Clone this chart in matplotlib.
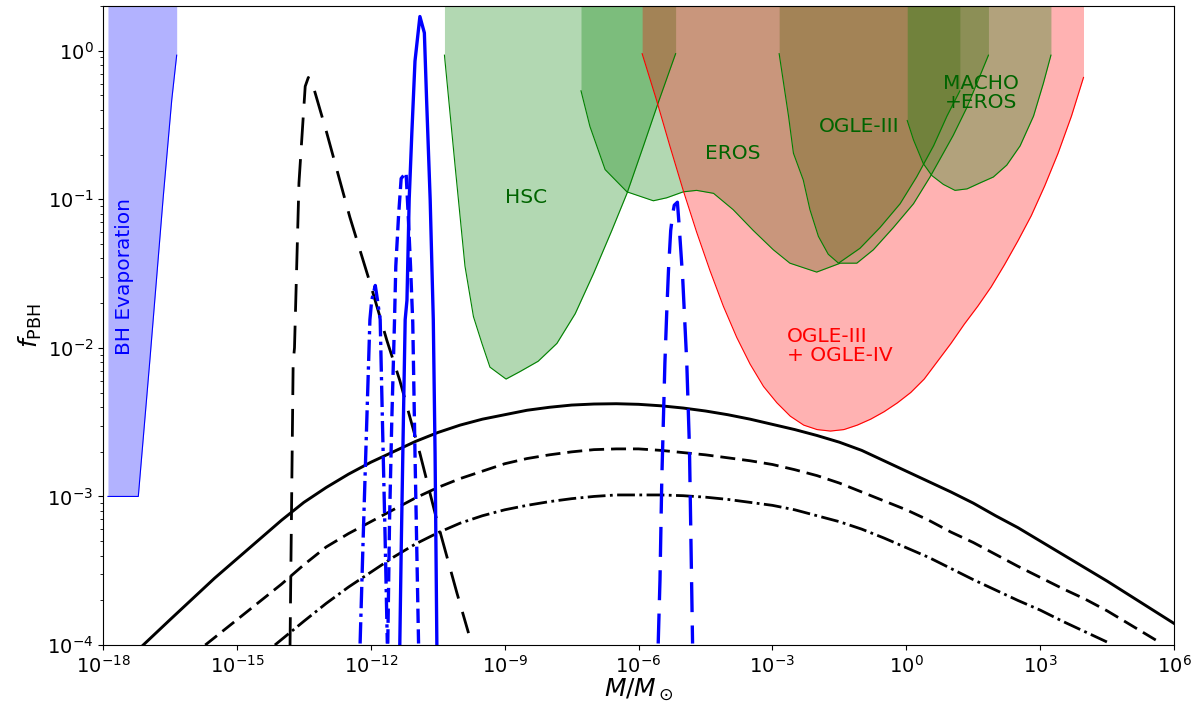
import numpy as np
import matplotlib
matplotlib.use('Agg')
import matplotlib.pyplot as plt
from matplotlib.ticker import FixedLocator, NullLocator

# constraint regions, log10(M/Msun) and log10(f_PBH) of the lower boundary
bh_logm = [-17.89, -17.21, -16.95, -16.65, -16.46, -16.35]
bh_logf = [-3.00, -3.00, -2.08, -0.98, -0.33, -0.03]

hsc_logm = [-10.35, -10.11, -9.89, -9.70, -9.51, -9.33, -8.97, -8.66, -8.25, -7.83,
            -7.42, -7.01, -6.60, -6.26, -5.89, -5.56, -5.17]
hsc_logf = [-0.03, -0.78, -1.45, -1.79, -1.97, -2.13, -2.21, -2.16, -2.09, -1.97,
            -1.77, -1.50, -1.21, -0.96, -0.64, -0.35, -0.02]

eros_logm = [-7.29, -7.09, -6.75, -6.26, -5.67, -5.37, -5.00, -4.70, -4.32, -3.88,
             -3.43, -2.98, -2.61, -2.01, -1.48, -1.11, -0.74, -0.29, 0.16, 0.53,
             0.79, 1.05, 1.36, 1.58, 1.84]
eros_logf = [-0.27, -0.51, -0.80, -0.95, -1.01, -0.99, -0.95, -0.94, -0.96, -1.07,
             -1.21, -1.34, -1.43, -1.49, -1.43, -1.43, -1.34, -1.19, -1.03, -0.85,
             -0.71, -0.57, -0.38, -0.22, -0.03]

ogle3_logm = [-2.85, -2.76, -2.64, -2.53, -2.31, -2.16, -1.97, -1.75, -1.52, -1.04,
              -0.59, -0.14, 0.23, 0.61, 0.91, 1.20]
ogle3_logf = [-0.02, -0.20, -0.44, -0.69, -0.87, -1.07, -1.25, -1.37, -1.43, -1.33,
              -1.19, -1.03, -0.85, -0.64, -0.44, -0.27]

ogle4_logm = [-5.92, -5.6, -5.3, -5.0, -4.7, -4.4, -4.1, -3.8, -3.5, -3.2,
              -2.9, -2.6, -2.3, -2.0, -1.7, -1.4, -1.1, -0.8, -0.5, -0.2,
              0.1, 0.4, 0.7, 1.0, 1.3, 1.6, 1.9, 2.2, 2.5, 2.8,
              3.1, 3.4, 3.7, 3.97]
ogle4_logf = [-0.02, -0.33, -0.64, -0.94, -1.22, -1.48, -1.72, -1.93, -2.11, -2.26,
              -2.37, -2.46, -2.52, -2.55, -2.56, -2.55, -2.52, -2.48, -2.43, -2.37,
              -2.30, -2.21, -2.09, -1.97, -1.84, -1.72, -1.59, -1.44, -1.28, -1.11,
              -0.91, -0.69, -0.44, -0.18]

macho_logm = [0.02, 0.16, 0.38, 0.57, 0.83, 1.09, 1.36, 1.65, 1.95, 2.25,
              2.55, 2.85, 3.07, 3.24]
macho_logf = [-0.47, -0.60, -0.76, -0.84, -0.90, -0.94, -0.93, -0.89, -0.85, -0.77,
              -0.64, -0.44, -0.22, -0.03]

# broad black curves
wide1_logm = [-17.1, -16.5, -16.0, -15.5, -15.0, -14.5, -14.0, -13.5, -13.0, -12.5,
              -12.0, -11.5, -11.0, -10.5, -10.0, -9.5, -9.0, -8.5, -8.0, -7.5,
              -7.0, -6.5, -6.0, -5.5, -5.0, -4.5, -4.0, -3.5, -3.0, -2.5,
              -2.0, -1.5, -1.0, -0.5, 0.0, 0.5, 1.0, 1.5, 2.0, 2.5,
              3.0, 3.5, 4.0, 4.5, 5.0, 5.5, 6.0]
wide1_logf = [-4.00, -3.83, -3.69, -3.55, -3.42, -3.29, -3.16, -3.04, -2.94, -2.85,
              -2.77, -2.70, -2.63, -2.57, -2.52, -2.48, -2.45, -2.42, -2.40, -2.385,
              -2.378, -2.376, -2.38, -2.39, -2.405, -2.425, -2.45, -2.48, -2.515, -2.55,
              -2.59, -2.635, -2.69, -2.76, -2.83, -2.90, -2.97, -3.045, -3.13, -3.21,
              -3.30, -3.39, -3.48, -3.57, -3.665, -3.76, -3.855]

wide2_logm = [-15.71, -15.0, -14.5, -14.0, -13.5, -13.0, -12.5, -12.0, -11.5, -11.0,
              -10.5, -10.0, -9.5, -9.0, -8.5, -8.0, -7.5, -7.0, -6.5, -6.0,
              -5.5, -5.0, -4.5, -4.0, -3.5, -3.0, -2.5, -2.0, -1.5, -1.0,
              -0.5, 0.0, 0.5, 1.0, 1.5, 2.0, 2.5, 3.0, 3.5, 4.0,
              4.5, 5.0, 5.72]
wide2_logf = [-4.00, -3.83, -3.71, -3.59, -3.46, -3.34, -3.25, -3.17, -3.09, -3.01,
              -2.94, -2.88, -2.83, -2.78, -2.745, -2.72, -2.70, -2.685, -2.68, -2.68,
              -2.69, -2.705, -2.72, -2.74, -2.76, -2.785, -2.82, -2.86, -2.91, -2.97,
              -3.03, -3.09, -3.16, -3.24, -3.31, -3.39, -3.47, -3.545, -3.62, -3.69,
              -3.77, -3.86, -3.99]

wide3_logm = [-14.15, -13.5, -13.0, -12.5, -12.0, -11.5, -11.0, -10.5, -10.0, -9.5,
              -9.0, -8.5, -8.0, -7.5, -7.0, -6.5, -6.0, -5.5, -5.0, -4.5,
              -4.0, -3.5, -3.0, -2.5, -2.0, -1.5, -1.0, -0.5, 0.0, 0.5,
              1.0, 1.5, 2.0, 2.5, 3.0, 3.5, 4.0, 4.57]
wide3_logf = [-4.00, -3.84, -3.72, -3.61, -3.51, -3.41, -3.32, -3.245, -3.18, -3.13,
              -3.09, -3.06, -3.035, -3.015, -3.00, -2.99, -2.99, -2.99, -2.995, -3.005,
              -3.02, -3.04, -3.06, -3.09, -3.13, -3.17, -3.22, -3.28, -3.345, -3.41,
              -3.485, -3.56, -3.63, -3.70, -3.765, -3.84, -3.91, -3.99]

peak_logm = [-13.81, -13.74, -13.71, -13.61, -13.47, -13.40, -13.29, -12.99, -12.47, -12.02,
             -11.64, -11.35, -10.90, -10.52, -10.07, -9.81]
peak_logf = [-4.00, -2.10, -2.00, -0.89, -0.24, -0.18, -0.24, -0.55, -1.12, -1.56,
             -1.95, -2.22, -2.71, -3.16, -3.65, -3.92]

# narrow blue peaks
blue1_logm = [-11.35, -11.32, -11.27, -11.23, -11.19, -11.14, -11.08, -11.01, -10.90, -10.80,
              -10.75, -10.67, -10.60, -10.56, -10.52]
blue1_logf = [-3.99, -3.38, -2.49, -1.81, -1.68, -1.00, -0.55, -0.07, 0.23, 0.12,
              -0.33, -1.00, -1.81, -2.71, -3.99]

blue2_logm = [-11.62, -11.58, -11.53, -11.47, -11.44, -11.38, -11.32, -11.21, -11.16, -11.11,
              -11.06, -11.01, -10.93]
blue2_logf = [-3.99, -3.16, -2.49, -1.83, -1.45, -1.12, -0.86, -0.82, -1.12, -1.45,
              -1.83, -2.71, -3.99]

blue3_logm = [-12.24, -12.17, -12.09, -12.02, -11.98, -11.90, -11.85, -11.79, -11.74, -11.68,
              -11.63]
blue3_logf = [-3.99, -3.27, -2.49, -1.81, -1.68, -1.58, -1.68, -1.81, -2.49, -3.27,
              -3.99]

blue4_logm = [-5.56, -5.52, -5.48, -5.44, -5.41, -5.37, -5.33, -5.28, -5.23, -5.20,
              -5.13, -5.09, -5.01, -4.92, -4.86, -4.83, -4.79]
blue4_logf = [-3.99, -3.56, -2.89, -2.44, -2.10, -1.77, -1.48, -1.21, -1.09, -1.04,
              -1.02, -1.18, -1.54, -2.10, -2.67, -3.23, -3.99]

xticks_exp = [-18, -15, -12, -9, -6, -3, 0, 3, 6]


def region(ax, logm, logf, color):
    m = 10.0**np.array(logm)
    f = 10.0**np.array(logf)
    ax.fill_between(m, f, 10.0, color=color, alpha=0.3, linewidth=0)
    ax.plot(m, f, color=color, lw=0.8)


def curve(ax, logm, logf, **kw):
    ax.plot(10.0**np.array(logm), 10.0**np.array(logf), **kw)


def main():
    fig = plt.figure(figsize=(12.01, 7.11), dpi=100)
    ax = fig.add_axes([0.0858, 0.0928, 0.8918, 0.8988])
    ax.set_xscale('log')
    ax.set_yscale('log')

    # shaded constraints, order matters for the colour mixing
    region(ax, bh_logm, bh_logf, 'blue')
    region(ax, hsc_logm, hsc_logf, 'green')
    region(ax, eros_logm, eros_logf, 'green')
    region(ax, ogle3_logm, ogle3_logf, 'green')
    region(ax, ogle4_logm, ogle4_logf, 'red')
    region(ax, macho_logm, macho_logf, 'green')

    # mass functions
    curve(ax, wide1_logm, wide1_logf, color='black', lw=2.1)
    curve(ax, wide2_logm, wide2_logf, color='black', lw=2.0, dashes=(5.4, 2.5))
    curve(ax, wide3_logm, wide3_logf, color='black', lw=2.0, ls='-.')
    curve(ax, peak_logm, peak_logf, color='black', lw=2.0, dashes=(10, 5))
    curve(ax, blue1_logm, blue1_logf, color='blue', lw=2.4)
    curve(ax, blue2_logm, blue2_logf, color='blue', lw=2.4, dashes=(4.3, 1.9))
    curve(ax, blue3_logm, blue3_logf, color='blue', lw=2.4, ls='-.')
    curve(ax, blue4_logm, blue4_logf, color='blue', lw=2.4, dashes=(9, 4))

    # labels of the regions
    fs = 14.5
    ax.text(10**-17.51, 10**-1.52, 'BH Evaporation', color='blue', fontsize=fs,
            rotation=90, ha='center', va='center')
    ax.text(10**-8.51, 10**-0.99, 'HSC', color='darkgreen', fontsize=fs, ha='center', va='center')
    ax.text(10**-3.88, 10**-0.69, 'EROS', color='darkgreen', fontsize=fs, ha='center', va='center')
    ax.text(10**-1.06, 10**-0.51, 'OGLE-III', color='darkgreen', fontsize=fs, ha='center', va='center')
    ax.text(10**1.67, 10**-0.285, 'MACHO\n+EROS', color='darkgreen', fontsize=fs,
            ha='center', va='center', linespacing=1.0)
    ax.text(10**-2.68, 10**-1.99, 'OGLE-III\n+ OGLE-IV', color='red', fontsize=fs,
            ha='left', va='center', linespacing=1.0)

    ax.set_xlim(1e-18, 1e6)
    ax.set_ylim(1e-4, 2)
    ax.xaxis.set_major_locator(FixedLocator([10.0**e for e in xticks_exp]))
    ax.xaxis.set_minor_locator(NullLocator())
    ax.tick_params(labelsize=14)
    ax.set_xlabel(r'$M/M_\odot$', fontsize=18, labelpad=0)
    ax.set_ylabel(r'$f_{\rm PBH}$', fontsize=18, labelpad=2)

    fig.savefig('out.png', dpi=100)


if __name__ == "__main__":
    main()
